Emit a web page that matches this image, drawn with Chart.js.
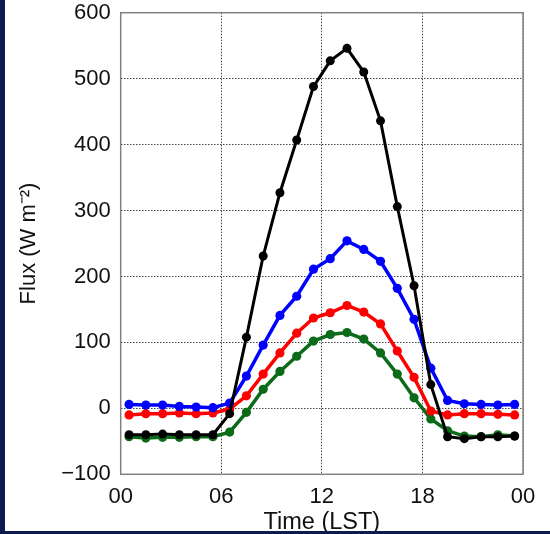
<!DOCTYPE html>
<html>
<head>
<meta charset="utf-8">
<script src="https://cdn.jsdelivr.net/npm/chart.js@4"></script>
<style>
  html, body { margin: 0; padding: 0; }
  body { background: #0c1a4e; width: 550px; height: 534px; overflow: hidden; position: relative; }
  #wrap { position: absolute; left: 5px; top: 0; width: 545px; height: 531px; background: #fff; overflow: hidden; }
  #box { position: absolute; left: 0; top: 0; width: 545px; height: 540px; }
</style>
</head>
<body>
<div id="wrap"><div id="box"><canvas id="fluxChart"></canvas></div></div>
<script>
// hours (LST) of each sample
const hours = [0.5, 1.5, 2.5, 3.5, 4.5, 5.5, 6.5, 7.5, 8.5, 9.5, 10.5, 11.5,
               12.5, 13.5, 14.5, 15.5, 16.5, 17.5, 18.5, 19.5, 20.5, 21.5, 22.5, 23.5];

const blackFlux = [-40, -40, -39, -40, -40, -40, -8, 108, 231, 327, 407, 488,
                   527, 546, 510, 436, 306, 186, 36, -43, -46, -43, -43, -42];
const blueFlux  = [6, 5, 5, 3, 2, 1, 8, 49, 96, 141, 170, 211,
                   227, 254, 241, 223, 182, 135, 61, 12, 7, 6, 5, 6];
const redFlux   = [-10, -8, -8, -7, -8, -7, -1, 19, 52, 84, 114, 137,
                   145, 156, 146, 128, 87, 47, -4, -10, -8, -8, -9, -10];
const greenFlux = [-43, -45, -44, -44, -43, -43, -36, -6, 29, 56, 79, 102,
                   112, 115, 105, 84, 52, 16, -16, -34, -42, -43, -40, -42];

const xTickLabels = ['00', '06', '12', '18', '00'];
const yTitle = 'Flux (W m\u207B\u00B2)';
const xTitle = 'Time (LST)';

function pts(vals) {
    return vals.map((v, i) => ({ x: hours[i], y: v }));
}

function series(vals, color, w, r) {
    return {
        data: pts(vals),
        borderColor: color,
        backgroundColor: color,
        borderWidth: w,
        pointRadius: r,
        pointHoverRadius: r,
        pointBorderWidth: 0,
        tension: 0
    };
}

// grey box round the plot area
const frame = {
    id: 'frame',
    afterDraw(chart) {
        const a = chart.chartArea;
        const c = chart.ctx;
        c.save();
        c.strokeStyle = '#808080';
        c.lineWidth = 1.5;
        c.strokeRect(a.left, a.top, a.right - a.left, a.bottom - a.top);
        c.restore();
    }
};

const fam = '"Liberation Sans", Arial, sans-serif';
const tickFont = { family: fam, size: 22, lineHeight: 1 };
const gridOpts = { color: '#444', lineWidth: 1, drawTicks: false };

new Chart(document.getElementById('fluxChart'), {
    type: 'line',
    data: {
        datasets: [
            series(blackFlux, '#000000', 3, 4.5),
            series(blueFlux, '#0000ff', 3.5, 4.6),
            series(redFlux, '#ff0000', 3.5, 4.6),
            series(greenFlux, '#0c6b18', 3.5, 4.6)
        ]
    },
    options: {
        responsive: true,
        maintainAspectRatio: false,
        animation: false,
        layout: { padding: { top: 12.7, right: 27, left: 0, bottom: 0 } },
        plugins: { legend: { display: false }, tooltip: { enabled: false } },
        scales: {
            x: {
                type: 'linear',
                min: 0,
                max: 24,
                grid: gridOpts,
                border: { display: false, dash: [1.5, 1.5] },
                afterBuildTicks(scale) {
                    scale.ticks = [0, 6, 12, 18, 24].map(v => ({ value: v }));
                },
                afterFit(scale) { scale.height = 65.7; scale.paddingLeft = 0; scale.paddingRight = 0; },
                ticks: {
                    color: '#111',
                    font: tickFont,
                    padding: 12,
                    maxRotation: 0,
                    callback: (v, i) => xTickLabels[i]
                },
                title: {
                    display: true,
                    text: xTitle,
                    color: '#111',
                    font: { family: fam, size: 23.5 },
                    padding: { top: 0, bottom: 3 }
                }
            },
            y: {
                min: -100,
                max: 600,
                grid: gridOpts,
                border: { display: false, dash: [1.5, 1.5] },
                afterFit(scale) { scale.width = 115.7; scale.paddingTop = 0; scale.paddingBottom = 0; },
                ticks: {
                    stepSize: 100,
                    color: '#111',
                    font: tickFont,
                    padding: 10,
                    callback: v => (v < 0 ? '\u2212' + Math.abs(v) : String(v))
                },
                title: {
                    display: true,
                    text: yTitle,
                    color: '#111',
                    font: { family: fam, size: 22 },
                    padding: { top: 11, bottom: 0 }
                }
            }
        }
    },
    plugins: [frame]
});
</script>
</body>
</html>
